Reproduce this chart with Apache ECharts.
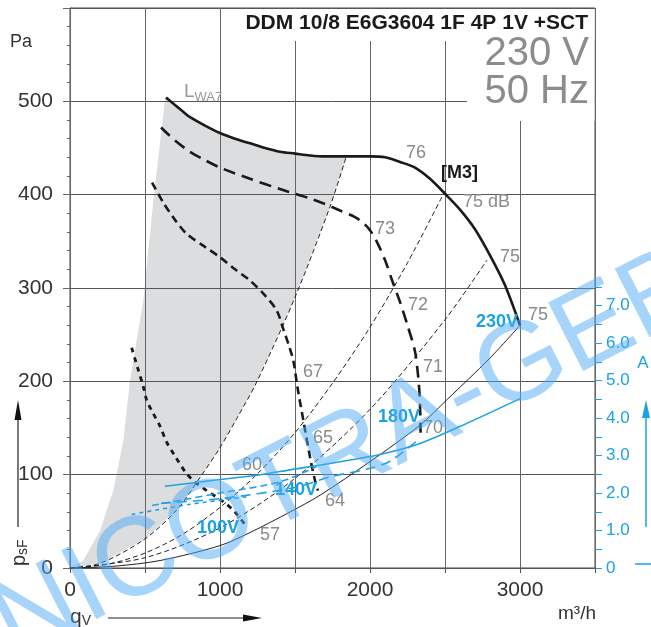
<!DOCTYPE html>
<html><head><meta charset="utf-8">
<script src="https://cdn.jsdelivr.net/npm/echarts@6/dist/echarts.min.js"></script>
<style>html,body{margin:0;padding:0;background:#fff}#c{width:651px;height:627px}</style>
</head><body><div id="c"></div>
<script>
// ---- data (x: m³/h, y: Pa / A) ----
const xTicks = [0, 1000, 2000, 3000];
const yTicks = [0, 100, 200, 300, 400, 500];
const ampTicks = [0, 1, 2, 3, 4, 5, 6, 7];

// operating curves p_sF (Pa)
const curve230 = [[640,504],[700,496],[753,489],[800,483],[900,474],[1000,466],[1100,460],[1200,455],[1300,450],[1400,446],[1500,444],[1600,442],[1700,441],[1800,441],[1900,441],[2000,441],[2100,440],[2200,435],[2300,429],[2400,417],[2500,401],[2600,384],[2700,363],[2800,335],[2900,303],[3000,260]];
const curve180 = [[607,472],[700,458],[800,446],[900,437],[1000,429],[1200,417],[1400,406],[1500,401],[1600,396],[1700,390],[1800,383],[1900,376],[1953,370],[2000,362],[2050,348],[2100,330],[2150,307],[2200,285],[2250,260],[2300,232],[2320,207],[2330,187],[2335,166],[2337,145]];
const curve140 = [[547,413],[620,392],[700,373],[778,358],[900,344],[1000,333],[1100,320],[1200,308],[1300,292],[1378,276],[1422,256],[1460,238],[1489,222],[1516,194],[1556,158],[1600,119],[1633,94],[1653,83]];
const curve100 = [[411,236],[450,215],[489,194],[511,180],[553,166],[600,152],[644,135],[700,120],[778,101],[850,90],[911,83],[1022,71],[1100,60],[1178,44]];

// system curves (Pa)
const sysA = [[0,0],[200,5],[489,30],[711,62],[867,97],[1000,129],[1111,160],[1244,199],[1500,290],[1733,387],[1840,440]];
const sysB = [[0,0],[250,4],[500,16],[750,36],[1000,65],[1250,101],[1500,145],[1750,198],[2000,258],[2250,327],[2500,404]];
const sysC = [[0,0],[500,11],[1000,43],[1500,96],[2000,170],[2500,266],[2780,330]];
const sysD = [[0,0],[300,2],[600,8],[1000,24],[1200,38],[1467,60],[1667,78],[2000,114],[2333,153],[2511,180],[2800,225],[3000,260]];

// L_WA7 region left boundary (Pa)
const lwaLeft = [[0,0],[89,8],[200,40],[289,83],[356,137],[400,201],[489,287],[556,394],[633,501]];

// currents (A)
const amp230 = [[633,2.18],[1000,2.36],[1267,2.49],[1467,2.62],[1733,2.79],[2067,3.03],[2333,3.32],[2667,3.9],[3000,4.52]];
const amp180 = [[607,1.73],[1000,1.85],[1500,2.15],[1733,2.43],[2000,2.66],[2133,2.85],[2333,3.46]];
const amp140 = [[547,1.67],[1000,2.0],[1400,2.3],[1644,2.71]];
const amp100 = [[411,1.43],[800,1.7],[1178,1.9]];

// ---- chart ----
const BLUE = '#1aa1e6';
const GRAYTXT = '#8a8a8a';
const FONT = '"Liberation Sans", Arial, sans-serif';
const NARROW = '"Liberation Sans Narrow", "Liberation Sans", Arial, sans-serif';

const lwaPolygon = lwaLeft.concat(curve230.filter(p => p[0] > 633 && p[0] < 1840), sysA.slice().reverse());

const chart = echarts.init(document.getElementById('c'));

function txt(x, y, text, opt) {
  return {type:'text', x:x, y:y, z:100, style:Object.assign({text:text, font:'18px ' + FONT, fill:GRAYTXT, verticalAlign:'middle', align:'left'}, opt||{})};
}
function lineSeries(data, width, dash, color, yAxisIndex, xAxisIndex) {
  return {type:'line', data:data, xAxisIndex:xAxisIndex||0, yAxisIndex:yAxisIndex||0, showSymbol:false, smooth:0.3, silent:true, clip:false,
    lineStyle:{color:color, width:width, type:dash}, z:3};
}

chart.setOption({
  animation:false,
  backgroundColor:'#fff',
  grid:[
    {left:70, right:56, top:8, bottom:59, show:true, borderColor:'#444', borderWidth:1},
    {left:70, right:56, top:287, bottom:59, show:false}
  ],
  xAxis:[
    {type:'value', gridIndex:0, min:0, max:3500, interval:500,
      axisLine:{lineStyle:{color:'#555'}}, axisTick:{length:5, lineStyle:{color:'#555'}},
      axisLabel:{formatter:v => xTicks.indexOf(v) >= 0 ? String(v) : '', color:'#333', fontSize:21, fontFamily:FONT, margin:12},
      splitLine:{show:true, lineStyle:{color:'#666'}}},
    {type:'value', gridIndex:1, min:0, max:3500, show:false}
  ],
  yAxis:[
    {type:'value', gridIndex:0, min:0, max:600, interval:100,
      axisLine:{show:true, onZero:false, lineStyle:{color:'#666'}}, axisTick:{show:true, length:7, lineStyle:{color:'#666'}},
      minorTick:{show:true, splitNumber:5, length:3, lineStyle:{color:'#666'}},
      axisLabel:{formatter:v => yTicks.indexOf(v) >= 0 ? String(v) : '', color:'#333', fontSize:21, fontFamily:FONT, margin:17},
      splitLine:{show:true, lineStyle:{color:'#555'}}},
    {type:'value', gridIndex:1, min:0, max:7.5, interval:0.5, position:'right',
      axisLine:{show:false, onZero:false}, axisTick:{show:true, length:7, lineStyle:{color:BLUE}},
      axisLabel:{formatter:v => ampTicks.indexOf(v) >= 0 ? (v === 0 ? '0' : v.toFixed(1)) : '', color:BLUE, fontSize:17, fontFamily:FONT, margin:11},
      splitLine:{show:false}}
  ],
  series:[
    {type:'custom', xAxisIndex:0, yAxisIndex:0, z:-1, silent:true, clip:false, data:[[0,0]],
      renderItem:(params, api) => ({type:'polygon', shape:{points:lwaPolygon.map(p => api.coord(p))}, style:{fill:'#dcdddf'}})},
    lineSeries(sysA, 1, [5,3], '#222'),
    lineSeries(sysB, 1, [5,3], '#222'),
    lineSeries(sysC, 1, [5,3], '#222'),
    lineSeries(sysD, 1, 'solid', '#222'),
    lineSeries(curve230, 2.6, 'solid', '#1a1a1a'),
    lineSeries(curve180, 2.6, [12,7], '#1a1a1a'),
    lineSeries(curve140, 2.6, [8,5], '#1a1a1a'),
    lineSeries(curve100, 2.8, [5,5], '#1a1a1a'),
    lineSeries(amp230, 1.6, 'solid', BLUE, 1, 1),
    lineSeries(amp180, 1.6, [10,6], BLUE, 1, 1),
    lineSeries(amp140, 1.6, [7,4], BLUE, 1, 1),
    lineSeries(amp100, 1.6, [4,4], BLUE, 1, 1)
  ],
  graphic:[
    {type:'rect', shape:{x:232, y:9, width:362.5, height:32}, style:{fill:'#fff'}, z:50},
    {type:'rect', shape:{x:467, y:9, width:127.5, height:112}, style:{fill:'#fff'}, z:50},
    txt(588, 23, 'DDM 10/8 E6G3604 1F 4P 1V +SCT', {font:'bold 21px ' + FONT, fill:'#1a1a1a', align:'right'}),
    txt(589, 54, '230 V', {font:'40px ' + FONT, fill:'#8c8c8c', align:'right'}),
    txt(589, 92, '50 Hz', {font:'40px ' + FONT, fill:'#8c8c8c', align:'right'}),
    txt(10, 42, 'Pa', {font:'18px ' + FONT, fill:'#333'}),
    txt(596, 614, 'm³/h', {font:'19px ' + FONT, fill:'#333', align:'right'}),
    {type:'text', x:184, y:92, z:100, style:{text:'{l|L}{s|WA7}', verticalAlign:'middle', rich:{l:{font:'19px ' + FONT, fill:'#999'}, s:{font:'13px ' + FONT, fill:'#999', padding:[10,0,0,0]}}}},
    txt(406, 153, '76'),
    txt(441, 173, '[M3]', {font:'bold 18px ' + NARROW, fill:'#1a1a1a'}),
    txt(463, 202, '75 dB'),
    txt(375, 229, '73'),
    txt(500, 257, '75'),
    txt(408, 305, '72'),
    txt(528, 315, '75'),
    txt(423, 367, '71'),
    txt(423, 428, '70'),
    txt(303, 372, '67'),
    txt(313, 438, '65'),
    txt(325, 501, '64'),
    txt(242, 465, '60'),
    txt(260, 535, '57'),
    txt(476, 322, '230V', {font:'bold 18px ' + NARROW, fill:BLUE}),
    txt(378, 417, '180V', {font:'bold 18px ' + NARROW, fill:BLUE}),
    txt(275, 490, '140V', {font:'bold 18px ' + NARROW, fill:BLUE}),
    txt(197, 528, '100V', {font:'bold 18px ' + NARROW, fill:BLUE}),
    txt(643, 363, 'A', {font:'17px ' + FONT, fill:BLUE, align:'center'}),
    {type:'line', shape:{x1:646, y1:527, x2:646, y2:415}, style:{stroke:BLUE, lineWidth:1.5}, z:100},
    {type:'polygon', shape:{points:[[646,400],[642,418],[650,418]]}, style:{fill:BLUE}, z:100},
    {type:'line', shape:{x1:635, y1:564, x2:651, y2:564}, style:{stroke:BLUE, lineWidth:1.5}, z:100},
    {type:'text', x:19, y:566, rotation:Math.PI/2, z:100, style:{text:'{p|p}{s|sF}', verticalAlign:'middle', align:'left', rich:{p:{font:'20px ' + FONT, fill:'#333'}, s:{font:'14px ' + FONT, fill:'#333', padding:[8,0,0,0]}}}},
    {type:'line', shape:{x1:18, y1:527, x2:18, y2:415}, style:{stroke:'#222', lineWidth:1.2}, z:100},
    {type:'polygon', shape:{points:[[18,400],[14.5,420],[21.5,420]]}, style:{fill:'#111'}, z:100},
    {type:'text', x:70, y:617, z:100, style:{text:'{q|q}{s|V}', verticalAlign:'middle', align:'left', rich:{q:{font:'21px ' + FONT, fill:'#333'}, s:{font:'14px ' + FONT, fill:'#333', padding:[8,0,0,0]}}}},
    {type:'line', shape:{x1:108, y1:618, x2:246, y2:618}, style:{stroke:'#222', lineWidth:1.2}, z:100},
    {type:'polygon', shape:{points:[[262,618],[243,614.5],[243,621.5]]}, style:{fill:'#111'}, z:100},
    {type:'text', x:1, y:633, rotation:0.471, z:120, silent:true,
      style:{text:'NICOTRA-GEBHARDT', font:'112px ' + FONT, fill:'rgba(80,170,245,0.5)', verticalAlign:'middle', align:'left'}}
  ]
});
</script></body></html>
